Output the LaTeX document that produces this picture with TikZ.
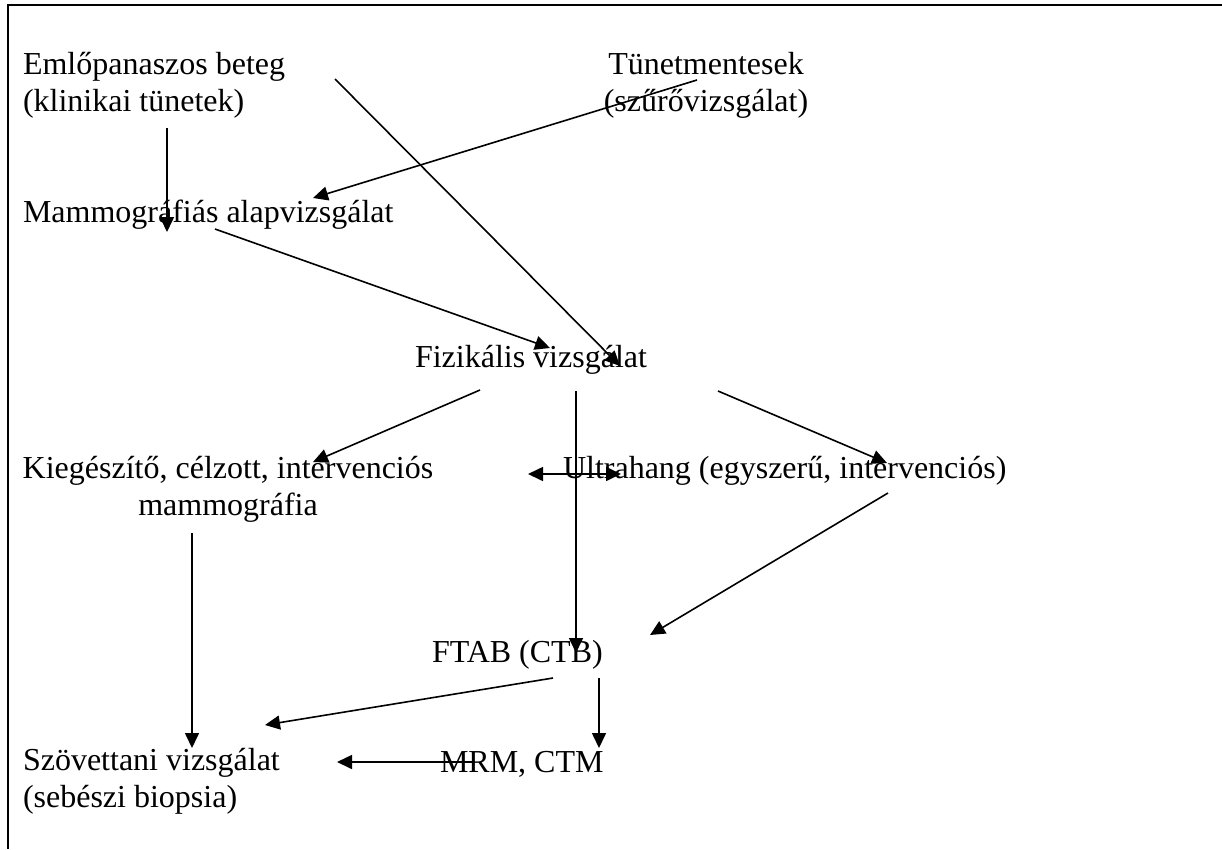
\documentclass[tikz,border=0pt]{standalone}
\usepackage{fontspec}
\setmainfont{Liberation Serif}
\usetikzlibrary{arrows.meta,calc}
\begin{document}
\begin{tikzpicture}[x=1pt,y=-1pt,
  lbl/.style={inner sep=0pt,outer sep=0pt,font=\fontsize{32}{37}\selectfont},
  arr/.style={line width=1.6pt,-{Triangle[length=15pt,width=14pt]}},
  dbl/.style={line width=1.6pt,{Triangle[length=15pt,width=14pt]}-{Triangle[length=15pt,width=14pt]}},
  frame/.style={line width=2pt}]
\useasboundingbox (0,0) rectangle (1222,849);
\fill[white] (0,0) rectangle (1222,849);
\coordinate (fc) at (8,849);
\coordinate (fa) at (8,5);
\coordinate (fb) at (1222,5);
\draw[frame] (fc) -- (fa) -- (fb);

\node[lbl,anchor=base west,align=left] (emlo) at (23,111) {Emlőpanaszos beteg\\(klinikai tünetek)};
\node[lbl,anchor=base,align=center] (tunet) at (706,111) {Tünetmentesek\\(szűrővizsgálat)};
\node[lbl,anchor=base west] (mammo) at (23,222) {Mammográfiás alapvizsgálat};
\node[lbl,anchor=base west] (fiz) at (415,367) {Fizikális vizsgálat};
\node[lbl,anchor=base,align=center] (kieg) at (228,515) {Kiegészítő, célzott, intervenciós\\mammográfia};
\node[lbl,anchor=base west] (ultra) at (563,478) {Ultrahang (egyszerű, intervenciós)};
\node[lbl,anchor=base west] (ftab) at (432,662) {FTAB (CTB)};
\node[lbl,anchor=base west] (mrm) at (440,772) {MRM, CTM};
\node[lbl,anchor=base west,align=left] (szov) at (23,807) {Szövettani vizsgálat\\(sebészi biopsia)};

\draw[arr] ($(emlo.base west)+(144,17)$) -- ($(mammo.base west)+(144,10)$);
\draw[arr] ($(emlo.base west)+(312,-32)$) -- ($(fiz.base west)+(205,-1)$);
\draw[arr] ($(tunet.base)+(-9,-31)$) -- ($(mammo.base west)+(290,-24)$);
\draw[arr] ($(mammo.base west)+(192,7)$) -- ($(fiz.base west)+(135,-19)$);
\draw[arr] ($(fiz.base west)+(65,23)$) -- ($(kieg.base)+(85,-53)$);
\draw[arr] ($(fiz.base west)+(161,24)$) -- ($(ftab.base west)+(144,-9)$);
\draw[arr] ($(fiz.base west)+(303,24)$) -- ($(ultra.base west)+(324,-15)$);
\draw[dbl] ($(ultra.base west)+(-35,-4)$) -- ($(ultra.base west)+(58,-4)$);
\draw[arr] ($(ultra.base west)+(325,15)$) -- ($(ftab.base west)+(218,-27)$);
\draw[arr] ($(ftab.base west)+(121,16)$) -- ($(szov.base west)+(242,-82)$);
\draw[arr] ($(ftab.base west)+(167,16)$) -- ($(mrm.base west)+(159,-24)$);
\draw[arr] ($(mrm.base west)+(33,-10)$) -- ($(szov.base west)+(314,-45)$);
\draw[arr] ($(kieg.base)+(-36,18)$) -- ($(szov.base west)+(169,-59)$);
\end{tikzpicture}
\end{document}
